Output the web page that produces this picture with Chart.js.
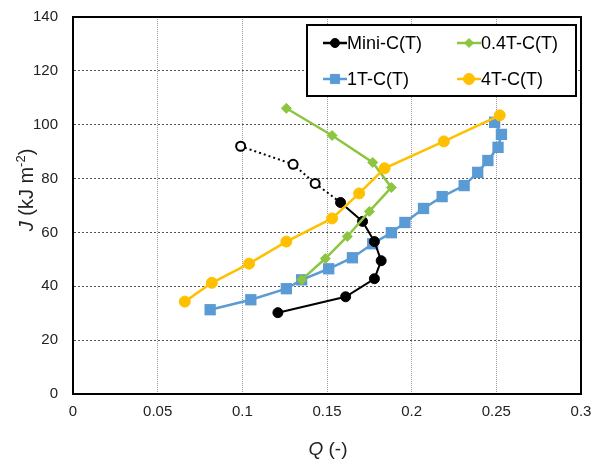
<!DOCTYPE html>
<html>
<head>
<meta charset="utf-8">
<script src="https://cdn.jsdelivr.net/npm/chart.js@4/dist/chart.umd.min.js"></script>
<style>
  html, body { margin: 0; padding: 0; background: #fff; }
</style>
</head>
<body>
<canvas id="chart" width="593" height="466"></canvas>
<script>
// values
const miniQ = [0.121, 0.161, 0.178, 0.182, 0.178, 0.171, 0.158];
const miniJ = [30.2, 36.1, 42.8, 49.5, 56.6, 64.1, 71.1];
// dotted tail starts at the last solid point
const miniTailQ = [0.158, 0.143, 0.130, 0.099];
const miniTailJ = [71.1, 78.2, 85.3, 92.0];
const q04Q = [0.126, 0.153, 0.177, 0.188, 0.175, 0.162, 0.149, 0.135];
const q04J = [106.1, 96.0, 86.0, 76.7, 67.8, 58.5, 50.3, 42.4];
const q1Q = [0.081, 0.105, 0.126, 0.135, 0.151, 0.165, 0.177, 0.188, 0.196,
             0.207, 0.218, 0.231, 0.239, 0.245, 0.251, 0.253, 0.249];
const q1J = [31.3, 35.0, 39.1, 42.4, 46.5, 50.6, 55.8, 59.9, 63.7,
             68.9, 73.3, 77.4, 82.3, 86.7, 91.6, 96.4, 100.9];
const q4Q = [0.066, 0.082, 0.104, 0.126, 0.153, 0.169, 0.184, 0.219, 0.252];
const q4J = [34.3, 41.3, 48.4, 56.6, 65.2, 74.5, 83.8, 93.8, 103.5];
const xTicks = [0, 0.05, 0.1, 0.15, 0.2, 0.25, 0.3];
const yTicks = [0, 20, 40, 60, 80, 100, 120, 140];

const FONT = "'Liberation Sans', Arial, sans-serif";

function pts(xs, ys) {
  return xs.map((x, i) => ({ x: x, y: ys[i] }));
}

const legendItems = [
  { label: 'Mini-C(T)', color: '#000000', style: 'circle', r: 4.5 },
  { label: '0.4T-C(T)', color: '#8cc640', style: 'rectRot', r: 4.5 },
  { label: '1T-C(T)', color: '#5b9bd5', style: 'rect', r: 6.5 },
  { label: '4T-C(T)', color: '#ffc000', style: 'circle', r: 5.5 }
];

const framePlugin = {
  id: 'frame',
  afterDraw(chart) {
    const ctx = chart.ctx;
    const a = chart.chartArea;
    ctx.save();
    // plot box
    ctx.strokeStyle = '#000';
    ctx.lineWidth = 2;
    ctx.setLineDash([]);
    ctx.strokeRect(a.left, a.top, a.right - a.left, a.bottom - a.top);

    // legend box
    const lx = 307, ly = 25, lw = 269, lh = 71;
    ctx.fillStyle = '#fff';
    ctx.fillRect(lx, ly, lw, lh);
    ctx.strokeRect(lx, ly, lw, lh);
    ctx.font = '18px ' + FONT;
    ctx.textBaseline = 'middle';
    legendItems.forEach((it, i) => {
      const x0 = i % 2 === 0 ? 323 : 457;
      const y0 = i < 2 ? 43 : 79;
      ctx.strokeStyle = it.color;
      ctx.lineWidth = 2.5;
      ctx.beginPath();
      ctx.moveTo(x0, y0);
      ctx.lineTo(x0 + 24, y0);
      ctx.stroke();
      ctx.fillStyle = it.color;
      ctx.lineWidth = 1;
      Chart.helpers.drawPoint(ctx, { pointStyle: it.style, radius: it.r, borderWidth: 1, rotation: 0 }, x0 + 12, y0);
      ctx.fillStyle = '#000';
      ctx.textAlign = 'left';
      ctx.fillText(it.label, x0 + 24, y0 + 1);
    });

    // x title
    ctx.fillStyle = '#222';
    ctx.textBaseline = 'alphabetic';
    ctx.font = 'italic 19px ' + FONT;
    const qW = ctx.measureText('Q').width;
    ctx.font = '19px ' + FONT;
    const restW = ctx.measureText(' (-)').width;
    let tx = 328 - (qW + restW) / 2;
    ctx.font = 'italic 19px ' + FONT;
    ctx.fillText('Q', tx, 455);
    ctx.font = '19px ' + FONT;
    ctx.fillText(' (-)', tx + qW, 455);

    // y title, rotated
    ctx.translate(33, 190);
    ctx.rotate(-Math.PI / 2);
    ctx.font = 'italic 20px ' + FONT;
    const jW = ctx.measureText('J').width;
    ctx.font = '20px ' + FONT;
    const midW = ctx.measureText(' (kJ m').width;
    ctx.font = '13px ' + FONT;
    const supW = ctx.measureText('-2').width;
    ctx.font = '20px ' + FONT;
    const endW = ctx.measureText(')').width;
    let px = -(jW + midW + supW + endW) / 2;
    ctx.font = 'italic 20px ' + FONT;
    ctx.fillText('J', px, 0); px += jW;
    ctx.font = '20px ' + FONT;
    ctx.fillText(' (kJ m', px, 0); px += midW;
    ctx.font = '13px ' + FONT;
    ctx.fillText('-2', px, -8); px += supW;
    ctx.font = '20px ' + FONT;
    ctx.fillText(')', px, 0);
    ctx.restore();
  }
};

new Chart(document.getElementById('chart'), {
  type: 'scatter',
  data: {
    datasets: [
      {
        label: '4T-C(T)', data: pts(q4Q, q4J), showLine: true, order: 1,
        borderColor: '#ffc000', backgroundColor: '#ffc000', borderWidth: 2.5,
        pointStyle: 'circle', pointRadius: 5.5, pointBorderWidth: 1
      },
      {
        label: '0.4T-C(T)', data: pts(q04Q, q04J), showLine: true, order: 2,
        borderColor: '#8cc640', backgroundColor: '#8cc640', borderWidth: 2.5,
        pointStyle: 'rectRot', pointRadius: 5, pointBorderWidth: 1
      },
      {
        label: 'Mini-C(T) dotted', data: pts(miniTailQ, miniTailJ), showLine: true, order: 3,
        borderColor: '#000', backgroundColor: '#fff', borderWidth: 2, borderDash: [2, 3],
        pointStyle: 'circle', pointRadius: [0, 4.5, 4.5, 4.5], pointBorderWidth: 2
      },
      {
        label: 'Mini-C(T)', data: pts(miniQ, miniJ), showLine: true, order: 4,
        borderColor: '#000', backgroundColor: '#000', borderWidth: 2,
        pointStyle: 'circle', pointRadius: 5, pointBorderWidth: 1
      },
      {
        label: '1T-C(T)', data: pts(q1Q, q1J), showLine: true, order: 5,
        borderColor: '#5b9bd5', backgroundColor: '#5b9bd5', borderWidth: 2.5,
        pointStyle: 'rect', pointRadius: 8, pointBorderWidth: 0
      }
    ]
  },
  options: {
    responsive: false,
    animation: false,
    layout: { padding: { top: 17, right: 12, left: 0, bottom: 0 } },
    plugins: { legend: { display: false }, tooltip: { enabled: false } },
    scales: {
      x: {
        type: 'linear', min: 0, max: 0.3,
        afterBuildTicks: s => { s.ticks = xTicks.map(v => ({ value: v })); },
        afterFit: s => { s.height = 72; s.paddingLeft = 0; s.paddingRight = 0; },
        ticks: {
          padding: 9, color: '#222', font: { family: FONT, size: 15 },
          callback: v => String(v)
        },
        grid: { color: '#9a9a9a', lineWidth: 1, drawTicks: false },
        border: { display: true, color: '#000', width: 2, dash: [1, 1] }
      },
      y: {
        type: 'linear', min: 0, max: 140,
        afterBuildTicks: s => { s.ticks = yTicks.map(v => ({ value: v })); },
        afterFit: s => { s.width = 73; s.paddingTop = 0; s.paddingBottom = 0; },
        ticks: {
          padding: 15, color: '#222', font: { family: FONT, size: 15 }
        },
        grid: { color: '#555', lineWidth: 1, drawTicks: false },
        border: { display: true, color: '#000', width: 2, dash: [2, 2] }
      }
    }
  },
  plugins: [framePlugin]
});
</script>
</body>
</html>
